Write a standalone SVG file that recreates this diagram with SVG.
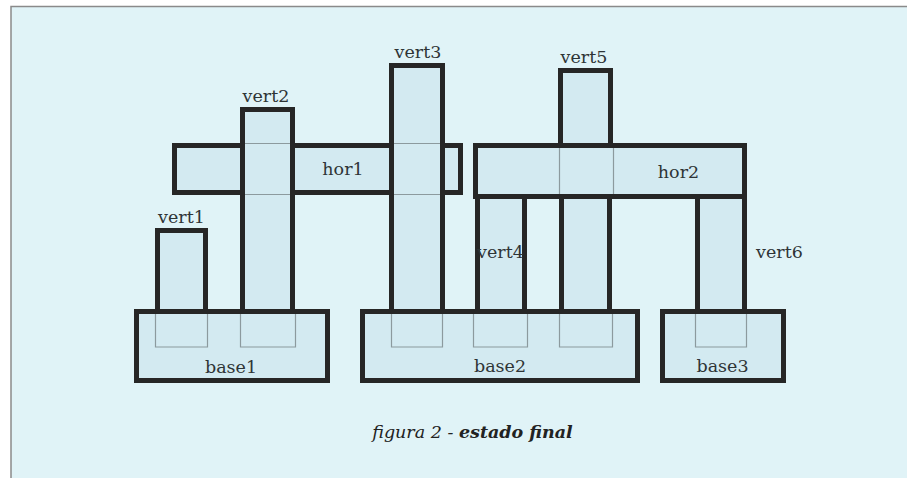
<svg xmlns="http://www.w3.org/2000/svg" width="907" height="478" viewBox="0 0 907 478">
<style>
.blk{fill:#d3eaf1;stroke:#262626;stroke-width:5;stroke-linejoin:miter}
.hid{fill:none;stroke:#8c9a9e;stroke-width:1.2}
.lbl{font-family:"DejaVu Serif","Liberation Serif",serif;font-size:17.5px;fill:#2e3436;text-anchor:middle}
.cap{font-family:"DejaVu Serif","Liberation Serif",serif;font-size:17.5px;fill:#222;text-anchor:middle}
</style>
<rect x="0" y="0" width="907" height="478" fill="#ffffff"/>
<rect x="11" y="6" width="900" height="480" fill="#e0f3f7"/>
<path d="M11 478 V6.5 H907" fill="none" stroke="#8a8a8a" stroke-width="1.5"/>

<g id="hor1"><rect class="blk" x="174.5" y="145.5" width="286" height="47"/></g>
<g id="hor2"><rect class="blk" x="475.5" y="145.5" width="269" height="51"/></g>
<g id="base1"><rect class="blk" x="136.5" y="311.5" width="191" height="69"/></g>
<g id="base2"><rect class="blk" x="362.5" y="311.5" width="275" height="69"/></g>
<g id="base3"><rect class="blk" x="662.5" y="311.5" width="121" height="69"/></g>
<g id="vert1"><rect class="blk" x="157.5" y="230.5" width="48" height="81"/></g>
<g id="vert2"><rect class="blk" x="242.5" y="109.5" width="50" height="202"/></g>
<g id="vert3"><rect class="blk" x="391.5" y="65.5" width="51" height="246"/></g>
<g id="vert5"><rect class="blk" x="560.5" y="70.5" width="50" height="75"/></g>
<g id="vert4"><rect class="blk" x="477.5" y="196.5" width="47" height="115"/></g>
<g id="vert-mid"><rect class="blk" x="561.5" y="196.5" width="48" height="115"/></g>
<g id="vert6"><rect class="blk" x="697.5" y="196.5" width="47" height="115"/></g>

<g id="hidden-edges">
<path class="hid" d="M155.5 314 V347 H207.5 V314"/>
<path class="hid" d="M240.5 314 V347 H295.5 V314"/>
<path class="hid" d="M391.5 314 V347 H442.5 V314"/>
<path class="hid" d="M473.5 314 V347 H527.5 V314"/>
<path class="hid" d="M559.5 314 V347 H612.5 V314"/>
<path class="hid" d="M695.5 314 V347 H746.5 V314"/>
<path class="hid" d="M245 143.5 H290 M245 194.5 H290"/>
<path class="hid" d="M394 143.5 H440 M394 194.5 H440"/>
<path class="hid" d="M559.5 148 V194 M613.5 148 V194"/>
</g>

<g id="labels">
<text class="lbl" x="181.5" y="223">vert1</text>
<text class="lbl" x="266" y="102">vert2</text>
<text class="lbl" x="418" y="58">vert3</text>
<text class="lbl" x="584" y="63">vert5</text>
<text class="lbl" x="500.5" y="258">vert4</text>
<text class="lbl" x="779.5" y="258">vert6</text>
<text class="lbl" x="343" y="175">hor1</text>
<text class="lbl" x="678.5" y="178">hor2</text>
<text class="lbl" x="231" y="373">base1</text>
<text class="lbl" x="500" y="372">base2</text>
<text class="lbl" x="722.5" y="372">base3</text>
<text class="cap" x="472.5" y="438"><tspan font-style="italic">figura 2 - </tspan><tspan font-style="italic" font-weight="bold">estado final</tspan></text>
</g>
</svg>
